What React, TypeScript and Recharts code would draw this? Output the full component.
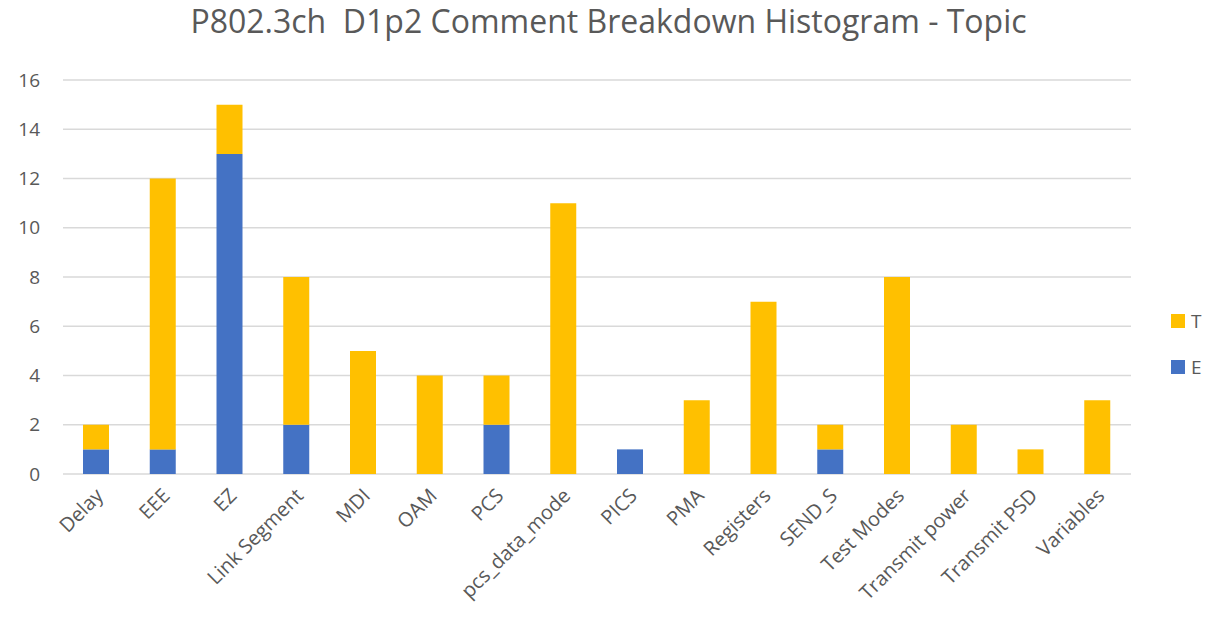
import React from 'react';
import { BarChart, Bar, XAxis, YAxis, CartesianGrid, Legend } from 'recharts';

const topics = [
  'Delay', 'EEE', 'EZ', 'Link Segment', 'MDI', 'OAM', 'PCS', 'pcs_data_mode',
  'PICS', 'PMA', 'Registers', 'SEND_S', 'Test Modes', 'Transmit power', 'Transmit PSD', 'Variables',
];
const eCounts = [1, 1, 13, 2, 0, 0, 2, 0, 1, 0, 0, 1, 0, 0, 0, 0];
const tCounts = [1, 11, 2, 6, 5, 4, 2, 11, 0, 3, 7, 1, 8, 2, 1, 3];
const yTicks = [0, 2, 4, 6, 8, 10, 12, 14, 16];

const data = topics.map((topic, i) => ({ topic, E: eCounts[i], T: tCounts[i] }));

const FONT = '"Open Sans", "Liberation Sans", sans-serif';
const TEXT = '#595959';

function XTick({ x, y, payload }: any) {
  return (
    <text
      x={x + 8}
      y={y + 15}
      transform={`rotate(-45, ${x + 8}, ${y + 15})`}
      textAnchor="end"
      fill={TEXT}
      fontSize={20}
      fontFamily={FONT}
    >
      {payload.value}
    </text>
  );
}

function LegendBox({ payload }: any) {
  const items = [...(payload || [])].reverse();
  return (
    <div style={{ position: 'absolute', left: 1171, top: 298, fontFamily: FONT, fontSize: 19, color: TEXT }}>
      {items.map((it: any) => (
        <div key={it.value} style={{ display: 'flex', alignItems: 'center', height: 46 }}>
          <span style={{ width: 14, height: 14, background: it.color, display: 'inline-block', marginRight: 6 }} />
          {it.value}
        </div>
      ))}
    </div>
  );
}

export default function App() {
  return (
    <div style={{ position: 'absolute', left: 0, top: 0, width: 1217, height: 618, background: '#fff' }}>
      <div
        style={{
          position: 'absolute', left: 0, top: -1, width: 1217, textAlign: 'center',
          fontFamily: FONT, fontSize: 32, color: TEXT, whiteSpace: 'pre',
        }}
      >
        {'P802.3ch  D1p2 Comment Breakdown Histogram - Topic'}
      </div>
      <BarChart
        width={1217}
        height={618}
        data={data}
        margin={{ top: 80, right: 86, bottom: 0, left: 0 }}
        barSize={26}
      >
        <CartesianGrid vertical={false} stroke="#D9D9D9" strokeWidth={1.3} />
        <XAxis
          dataKey="topic"
          interval={0}
          height={144}
          axisLine={false}
          tickLine={false}
          tick={<XTick />}
        />
        <YAxis
          width={63}
          domain={[0, 16]}
          ticks={yTicks}
          axisLine={false}
          tickLine={false}
          tickSize={0}
          tickMargin={23}
          tick={{ fill: TEXT, fontSize: 19, fontFamily: FONT }}
        />
        <Legend
          content={<LegendBox />}
          wrapperStyle={{ left: 0, top: 0, width: 0, height: 0, overflow: 'visible' }}
        />
        <Bar dataKey="E" stackId="a" fill="#4472C4" isAnimationActive={false} />
        <Bar dataKey="T" stackId="a" fill="#FFC000" isAnimationActive={false} />
      </BarChart>
    </div>
  );
}
